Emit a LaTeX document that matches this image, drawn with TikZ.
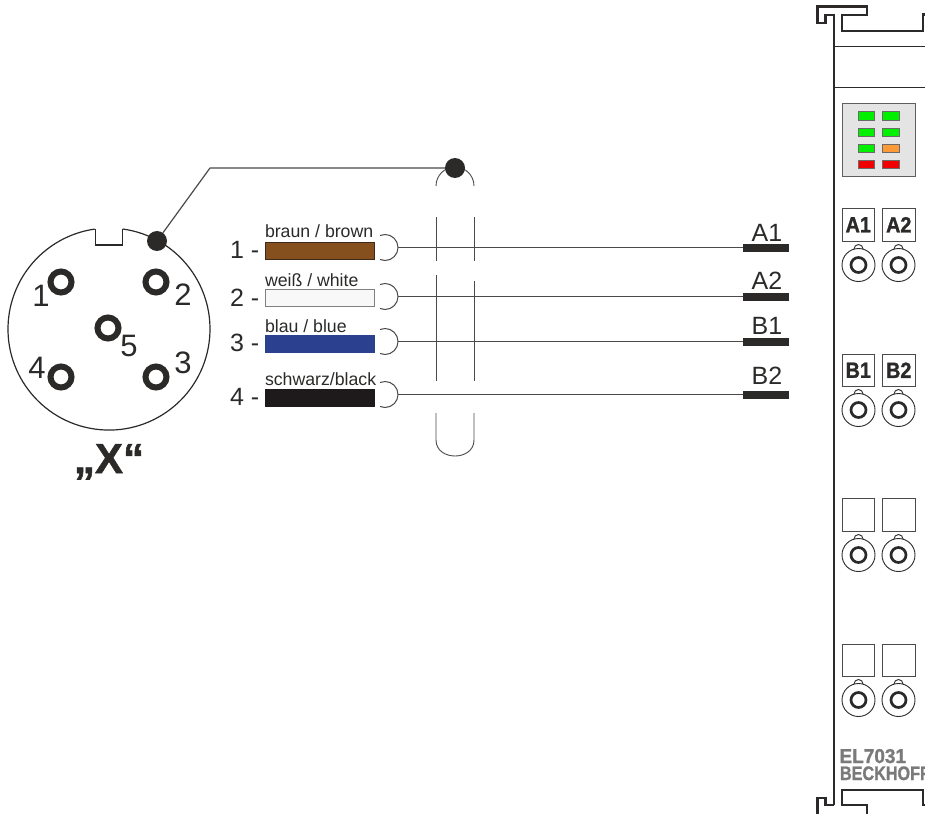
\documentclass[tikz,border=0pt]{standalone}
\usepackage{fontspec}
\setmainfont{Liberation Sans}
\newfontfamily\heavyfont{Liberation Sans}[BoldFeatures={FakeBold=1.3}]
\definecolor{ink}{HTML}{2B2A29}
\definecolor{wirec}{HTML}{4A4A4A}
\definecolor{brownw}{HTML}{85501E}
\definecolor{bluew}{HTML}{2B4190}
\definecolor{blackw}{HTML}{1E1A1B}
\definecolor{whitew}{HTML}{F8F8F8}
\definecolor{panelc}{HTML}{E4E4E4}
\definecolor{ledg}{HTML}{00F000}
\definecolor{ledo}{HTML}{FB9A36}
\definecolor{ledr}{HTML}{F00000}
\definecolor{logoc}{HTML}{7A7A7A}
\newcommand{\fs}[1]{\fontsize{#1}{#1}\selectfont}
\tikzset{
  every node/.style={inner sep=0pt,outer sep=0pt,text=ink},
  pinring/.style={circle,draw=ink,line width=6pt,minimum size=21pt,fill=white},
  pinno/.style={anchor=base,font=\fs{31}},
  wirebox/.style={anchor=north west,minimum width=109pt,minimum height=17pt,draw=#1,line width=.8pt},
  wiretext/.style={anchor=base west,font=\fs{17.7}},
  wireno/.style={anchor=base west,font=\fs{25}},
  wireline/.style={draw=wirec,line width=1pt},
  shieldline/.style={draw=wirec,line width=.9pt},
  termbar/.style={anchor=north west,minimum width=46pt,minimum height=8pt,fill=ink},
  termtext/.style={anchor=base,font=\fs{25}},
  housing/.style={draw=ink,line width=2.6pt,line join=miter},
  ledbox/.style={anchor=north west,minimum width=16.5pt,minimum height=8.5pt,fill=#1,draw=ink!70,line width=.8pt},
  labelbox/.style={anchor=north west,minimum width=32.5pt,minimum height=32.5pt,draw=ink!85,line width=.9pt,fill=white,font=\heavyfont\bfseries\fs{22}},
}
\newcommand{\contact}[2]{%
  \draw[ink,line width=.9pt,fill=white] (#1,{#2-16}) circle[radius=4.5pt];
  \draw[ink,line width=.9pt,fill=white] (#1,#2) circle[radius=16.5pt];
  \draw[ink,line width=2.7pt] (#1,#2) circle[radius=7.5pt];
}
\begin{document}
\begin{tikzpicture}[x=1pt,y=-1pt]
\useasboundingbox (0,0) rectangle (925,813);
\begin{scope}
\clip (0,0) rectangle (925,813);
% connector face
\draw[ink,line width=1.2pt] (122.7,229) arc[start angle=82.2,delta angle=-344.1,radius=101pt];
\draw[ink,line width=1.2pt] (95.3,229) -- (95.3,245) -- (122.7,245) -- (122.7,229);
\node[pinring] (p1) at (61,282) {};
\node[pinring] (p2) at (156,282) {};
\node[pinring] (p5) at (108,328) {};
\node[pinring] (p4) at (61,377) {};
\node[pinring] (p3) at (156,377) {};
\node[pinno] (n1) at (41,306) {1};
\node[pinno] (n2) at (183,305) {2};
\node[pinno] (n5) at (129,356) {5};
\node[pinno] (n3) at (183,373) {3};
\node[pinno] (n4) at (37,378) {4};
\node[anchor=base,font=\heavyfont\bfseries\fs{42}] (xl) at (109,473) {„X“};
% shield
\draw[shieldline] (436,186) arc[start angle=180,delta angle=-180,radius=19pt];
\node[circle,fill=ink,minimum size=20pt] (dotA) at (157,241) {};
\node[circle,fill=ink,minimum size=20pt] (dotB) at (455,168) {};
\coordinate (knee) at (210,168);
\draw[wirec,line width=1.2pt,line join=round] (dotA) -- (knee) -- (dotB);
\draw[shieldline] (436,217) -- (436,261) (474,217) -- (474,261);
\draw[shieldline] (436,275) -- (436,381) (474,281) -- (474,381);
\draw[shieldline] (436,413) -- (436,440) .. controls (436,451) and (446,456) .. (455,456) .. controls (464,456) and (474,451) .. (474,440) -- (474,413);
% wires
\foreach \nm/\wno/\y/\fillc/\edgec/\ty/\txt/\ny/\tl/\ltb/\wy/\by in {
  a/1/242/brownw/blackw!70!brownw/237/{braun / brown}/258/A1/241/247.5/244,
  b/2/289/whitew/gray/286/{weiß / white}/306.5/A2/289/296.5/293,
  c/3/335/bluew/bluew/332/{blau / blue}/351/B1/334/341.5/338,
  d/4/389/blackw/blackw/385/{schwarz/black}/405/B2/384/394.5/391}{
  \node[wirebox=\edgec,fill=\fillc] (box\nm) at (265,\y) {};
  \node[wiretext] (txt\nm) at (265,\ty) {\txt};
  \node[wireno] (no\nm) at (230,\ny) {\wno\ -};
  \coordinate (cup\nm) at (398,\wy);
  \node[termbar] (term\nm) at (743,\by) {};
  \node[termtext] (lab\nm) at (767,\ltb) {\tl};
  \draw[wireline] (398,\wy) ++(-18,-12) arc[start angle=112.6,delta angle=-225.2,radius=13pt];
  \draw[wireline] (cup\nm) -- (cup\nm -| term\nm.west);
}
% housing
\draw[housing] (834,805) -- (834,15) -- (825.5,15) -- (825.5,23) -- (817.5,23) -- (817.5,6.5) -- (867,6.5) -- (867,15) -- (842,15) -- (842,31) -- (923,31) -- (923,14.5) -- (926,14.5);
\draw[housing] (834,805) -- (825.5,805) -- (825.5,798) -- (817.5,798) -- (817.5,815);
\draw[housing] (867,815) -- (867,805) -- (842,805) -- (842,790) -- (923,790) -- (923,805) -- (926,805);
\draw[ink,line width=1pt] (834,47) -- (926,47) (834,88) -- (926,88);
\node[anchor=north west,minimum width=73pt,minimum height=72.5pt,fill=panelc,draw=ink!75,line width=1pt] (panel) at (842,104) {};
\foreach \c/\x/\y [count=\i] in {ledg/858/111.5,ledg/882.5/111.5,ledg/858/128,ledg/882.5/128,ledg/858/144,ledo/882.5/144,ledr/858/160,ledr/882.5/160}{
  \node[ledbox=\c] (led\i) at (\x,\y) {};
}
\node[labelbox] (A1) at (842,208.5) {\scalebox{.9}[1]{A1}};
\node[labelbox] (A2) at (882.5,208.5) {\scalebox{.9}[1]{A2}};
\node[labelbox] (B1) at (842,354) {\scalebox{.9}[1]{B1}};
\node[labelbox] (B2) at (882.5,354) {\scalebox{.9}[1]{B2}};
\node[labelbox] (C1) at (842,498.5) {};
\node[labelbox] (C2) at (882.5,498.5) {};
\node[labelbox] (D1) at (842,644) {};
\node[labelbox] (D2) at (882.5,644) {};
\foreach \y in {265,410,555,700}{\contact{858.5}{\y}\contact{898.5}{\y}}
\node[anchor=base west,font=\heavyfont\bfseries\fs{20},text=logoc] (model) at (839.5,763) {\scalebox{.95}[1]{EL7031}};
\node[anchor=base west,font=\heavyfont\bfseries\fs{19.5},text=logoc] (logo) at (840,780) {\scalebox{.83}[1]{BECKHOFF}};
\end{scope}
\end{tikzpicture}
\end{document}
